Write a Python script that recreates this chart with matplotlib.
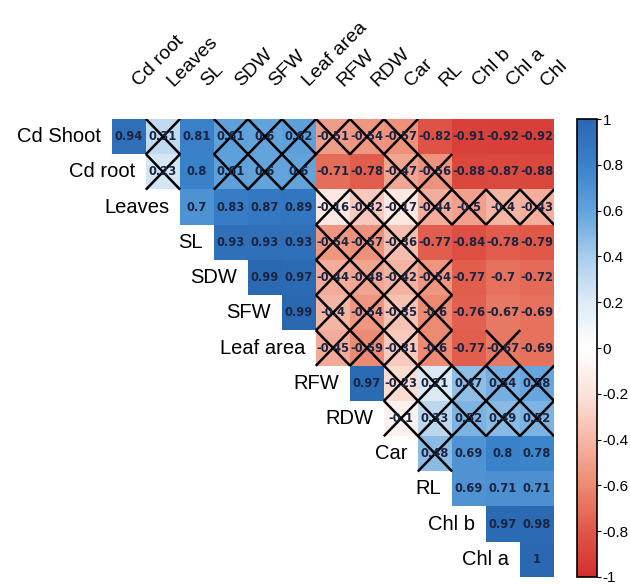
import numpy as np
import matplotlib
matplotlib.use("Agg")
import matplotlib.pyplot as plt
from matplotlib.colors import LinearSegmentedColormap, Normalize
from matplotlib.colorbar import ColorbarBase

plt.rcParams['font.family'] = ['Liberation Sans', 'DejaVu Sans']

row_names = ["Cd Shoot", "Cd root", "Leaves", "SL", "SDW", "SFW", "Leaf area",
             "RFW", "RDW", "Car", "RL", "Chl b", "Chl a"]
col_names = ["Cd root", "Leaves", "SL", "SDW", "SFW", "Leaf area", "RFW",
             "RDW", "Car", "RL", "Chl b", "Chl a", "Chl"]

# each row starts at the column with the same index (upper triangle)
r_vals = [
    [0.94, 0.31, 0.81, 0.61, 0.6, 0.62, -0.51, -0.54, -0.57, -0.82, -0.91, -0.92, -0.92],
    [0.23, 0.8, 0.61, 0.6, 0.6, -0.71, -0.78, -0.47, -0.56, -0.88, -0.87, -0.88],
    [0.7, 0.83, 0.87, 0.89, -0.16, -0.32, -0.17, -0.44, -0.5, -0.4, -0.43],
    [0.93, 0.93, 0.93, -0.54, -0.57, -0.36, -0.77, -0.84, -0.78, -0.79],
    [0.99, 0.97, -0.44, -0.48, -0.42, -0.54, -0.77, -0.7, -0.72],
    [0.99, -0.4, -0.54, -0.35, -0.6, -0.76, -0.67, -0.69],
    [-0.45, -0.59, -0.31, -0.6, -0.77, -0.67, -0.69],
    [0.97, -0.23, 0.21, 0.47, 0.54, 0.58],
    [-0.1, 0.33, 0.52, 0.49, 0.52],
    [0.48, 0.69, 0.8, 0.78],
    [0.69, 0.71, 0.71],
    [0.97, 0.98],
    [1.0],
]
# 1 = not significant (crossed out)
crossed = [
    [0, 1, 0, 1, 1, 1, 1, 1, 1, 0, 0, 0, 0],
    [1, 0, 1, 1, 1, 0, 0, 1, 1, 0, 0, 0],
    [0, 0, 0, 0, 1, 1, 1, 1, 1, 1, 1],
    [0, 0, 0, 1, 1, 1, 0, 0, 0, 0],
    [0, 0, 1, 1, 1, 1, 0, 0, 0],
    [0, 1, 1, 1, 1, 0, 0, 0],
    [1, 1, 1, 1, 0, 1, 0],
    [0, 1, 1, 1, 1, 1],
    [1, 1, 1, 1, 1],
    [1, 0, 0, 0],
    [0, 0, 0],
    [0, 0],
    [0],
]

n = len(row_names)
mat = np.full((n, n), np.nan)
for i, row in enumerate(r_vals):
    mat[i, i:] = row

cmap = LinearSegmentedColormap.from_list(
    "rb", ["#D32F2F", "#E05848", "#EC8A72", "#F5B7A6", "#FCE3DC", "#FFFFFF",
           "#DDEBF6", "#A9CDEB", "#62A3DC", "#3A82CA", "#2A68B2"])
norm = Normalize(-1, 1)

fig = plt.figure(figsize=(6.3, 5.84), dpi=100)
ax = fig.add_axes([112 / 630, 7 / 584, 442 / 630, 458 / 584])
ax.imshow(np.ma.masked_invalid(mat), cmap=cmap, norm=norm, aspect="auto",
          interpolation="nearest")
ax.set_xlim(-0.5, n - 0.5)
ax.set_ylim(n - 0.5, -0.5)
ax.axis("off")

for i, row in enumerate(r_vals):
    for k, v in enumerate(row):
        j = i + k
        txt = "1" if v == 1.0 else f"{v:g}"
        ax.text(j, i, txt, ha="center", va="center", fontsize=8.3,
                fontweight="bold", color="#1B2440", family="DejaVu Sans")
        if crossed[i][k]:
            ax.plot([j - 0.48, j + 0.48], [i - 0.48, i + 0.48], color="black", lw=1.8)
            ax.plot([j - 0.48, j + 0.48], [i + 0.48, i - 0.48], color="black", lw=1.8)
    ax.text(i - 0.82, i, row_names[i], ha="right", va="center", fontsize=14.5)

for j, name in enumerate(col_names):
    ax.text(j + 0.3, -1.4, name, rotation=45, rotation_mode="anchor",
            ha="left", va="baseline", fontsize=14)

cax = fig.add_axes([577 / 630, 7 / 584, 20 / 630, 458 / 584])
cb = ColorbarBase(cax, cmap=cmap, norm=norm, ticks=np.arange(-1, 1.01, 0.2))
cb.set_ticklabels(["-1", "-0.8", "-0.6", "-0.4", "-0.2", "0", "0.2", "0.4", "0.6", "0.8", "1"])
cb.ax.tick_params(labelsize=11, length=3, pad=1)
cb.outline.set_linewidth(1.2)

fig.savefig("out.png", dpi=100)
